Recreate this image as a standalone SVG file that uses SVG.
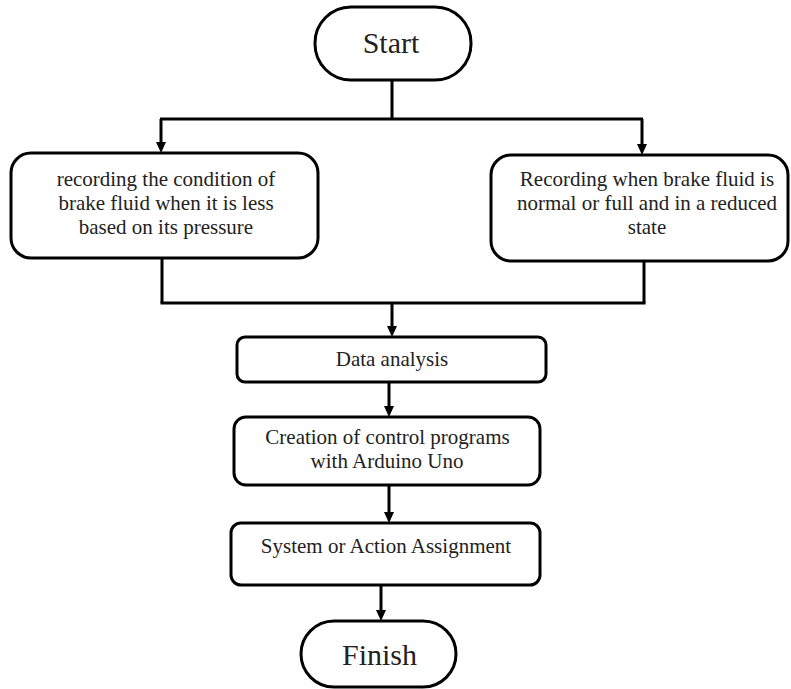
<svg xmlns="http://www.w3.org/2000/svg" width="791" height="689" viewBox="0 0 791 689">
<style>
.box{fill:#fff;stroke:#000;stroke-width:3}
.ln{fill:none;stroke:#000;stroke-width:3}
.t{font-family:"Liberation Serif","Times New Roman",serif;font-size:21px;fill:#222;text-anchor:middle}
.big{font-size:30px}
</style>
<g id="connectors">
<path class="ln" d="M392,80 V119"/>
<path class="ln" d="M160,119 H643"/>
<path d="M161,119 V143" class="ln"/>
<path d="M156,142 L166,142 L161,153 Z" fill="#000"/>
<path d="M642,119 V145" class="ln"/>
<path d="M637,144 L647,144 L642,155 Z" fill="#000"/>
<path class="ln" d="M162,258 V303"/>
<path class="ln" d="M644,261 V303"/>
<path class="ln" d="M160.5,303 H645.5"/>
<path class="ln" d="M392,303 V327"/>
<path d="M387,326 L397,326 L392,337 Z" fill="#000"/>
<path class="ln" d="M389,382 V407"/>
<path d="M384,406 L394,406 L389,417 Z" fill="#000"/>
<path class="ln" d="M389,485 V513"/>
<path d="M384,512 L394,512 L389,523 Z" fill="#000"/>
<path class="ln" d="M381,585 V611"/>
<path d="M376,610 L386,610 L381,621 Z" fill="#000"/>
</g>
<g id="start">
<rect class="box" x="315" y="7" width="156" height="73" rx="36"/>
<text class="t big" x="391" y="53">Start</text>
</g>
<g id="record-less">
<rect class="box" x="11" y="153" width="307" height="105" rx="20"/>
<text class="t" x="166" y="186">recording the condition of</text>
<text class="t" x="166" y="210">brake fluid when it is less</text>
<text class="t" x="166" y="234">based on its pressure</text>
</g>
<g id="record-normal">
<rect class="box" x="491" y="155" width="297" height="106" rx="20"/>
<text class="t" x="647" y="186">Recording when brake fluid is</text>
<text class="t" x="647" y="210">normal or full and in a reduced</text>
<text class="t" x="647" y="234">state</text>
</g>
<g id="data-analysis">
<rect class="box" x="237" y="337" width="309" height="45" rx="8"/>
<text class="t" x="392" y="366">Data analysis</text>
</g>
<g id="creation">
<rect class="box" x="234" y="417" width="306" height="68" rx="12"/>
<text class="t" x="387.5" y="444">Creation of control programs</text>
<text class="t" x="387" y="468">with Arduino Uno</text>
</g>
<g id="system">
<rect class="box" x="231" y="523" width="309" height="62" rx="10"/>
<text class="t" x="386" y="553">System or Action Assignment</text>
</g>
<g id="finish">
<rect class="box" x="301" y="621" width="155" height="66" rx="33"/>
<text class="t big" x="379.5" y="665">Finish</text>
</g>
</svg>
